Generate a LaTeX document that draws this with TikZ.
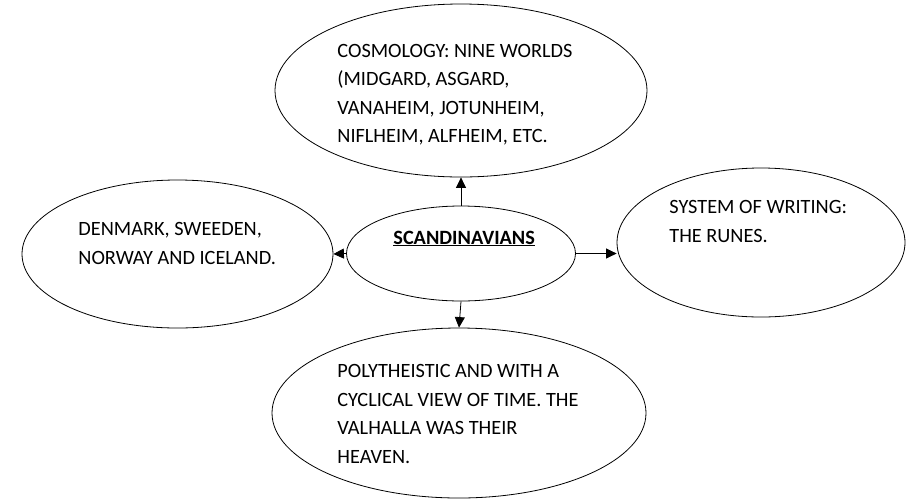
\documentclass[tikz,border=0pt]{standalone}
\usepackage{fontspec}
\setmainfont{Carlito}
\usetikzlibrary{arrows.meta,shapes.geometric}
\begin{document}
\begin{tikzpicture}[x=1pt,y=-1pt,line width=0.8pt,
		oval/.style={draw,ellipse,inner sep=0pt},
		txt/.style={anchor=base west,align=left,inner sep=0pt,font=\fontsize{20.3}{28.5}\selectfont},
		link/.style={-{Triangle[length=10.5pt,width=10pt]}}]
	\useasboundingbox (0,0) rectangle (910,499);
	% ellipses
	\node[oval,minimum width=372,minimum height=173] (cosmo) at (461,90.5) {};
	\node[oval,minimum width=311,minimum height=148] (lands) at (177.5,254) {};
	\node[oval,minimum width=229,minimum height=95] (scand) at (461,253.5) {};
	\node[oval,minimum width=288,minimum height=149] (runes) at (761,242.5) {};
	\node[oval,minimum width=374,minimum height=170] (faith) at (459,413) {};
	% texts (placed at the baseline of their last line)
	\node[txt] (cosmot) at (337,142.5) {COSMOLOGY: NINE WORLDS\\(MIDGARD, ASGARD,\\VANAHEIM, JOTUNHEIM,\\NIFLHEIM, ALFHEIM, ETC.};
	\node[txt] (landst) at (78,264) {DENMARK, SWEEDEN,\\NORWAY AND ICELAND.};
	\node[txt] (scandt) at (393,244) {\underline{\textbf{SCANDINAVIANS}}};
	\node[txt] (runest) at (669,242) {SYSTEM OF WRITING:\\THE RUNES.};
	\node[txt] (faitht) at (337,463) {POLYTHEISTIC AND WITH A\\CYCLICAL VIEW OF TIME. THE\\VALHALLA WAS THEIR\\HEAVEN.};
	% arrows
	\draw[link] (scand.north) -- (cosmo.south);
	\draw[link] (scand.west) -- (lands.east);
	\draw[link] (scand.east) -- (scand.east -| runes.west);
	\draw[link] (scand.south) -- (faith.north);
\end{tikzpicture}
\end{document}
